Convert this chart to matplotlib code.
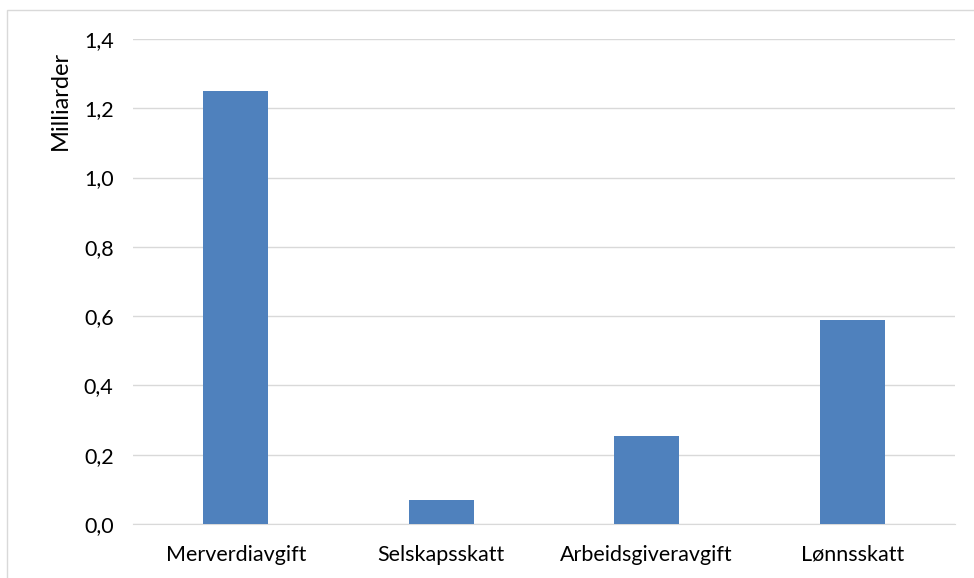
import matplotlib
matplotlib.use('Agg')
from matplotlib import pyplot as plt
from matplotlib.patches import Rectangle

categories = ['Merverdiavgift', 'Selskapsskatt', 'Arbeidsgiveravgift', 'Lønnsskatt']
values = [1.25, 0.07, 0.255, 0.588]
yticks = [0.0, 0.2, 0.4, 0.6, 0.8, 1.0, 1.2, 1.4]
ytick_labels = ['0,0', '0,2', '0,4', '0,6', '0,8', '1,0', '1,2', '1,4']


def main():
    plt.rcParams['font.family'] = ['Lato', 'DejaVu Sans']
    fig = plt.figure(figsize=(9.74, 5.78), dpi=100)
    W, H = 974, 578
    ax = fig.add_axes([133 / W, 1 - 524 / H, 822 / W, 485 / H])

    # outer chart frame
    fig.patches.append(Rectangle((7 / W, -0.01), 1.0, 1 - 10 / H + 0.01,
                                 transform=fig.transFigure, fill=False,
                                 edgecolor='#d9d9d9', linewidth=1))

    x = range(len(categories))
    ax.bar(x, values, width=0.316, color='#4f81bd', zorder=3)
    ax.set_xlim(-0.5, len(categories) - 0.5)
    ax.set_ylim(0, 1.4)
    ax.set_yticks(yticks)
    ax.set_yticklabels(ytick_labels)
    ax.set_xticks(list(x))
    ax.set_xticklabels(categories)
    ax.grid(axis='y', color='#d9d9d9', linewidth=1, zorder=0)
    for side in ['top', 'right', 'left']:
        ax.spines[side].set_visible(False)
    ax.spines['bottom'].set_color('#d9d9d9')
    ax.tick_params(axis='both', length=0, labelsize=15.5, colors='#000000')
    ax.tick_params(axis='y', pad=14)
    ax.tick_params(axis='x', pad=15)
    ax.set_ylabel('Milliarder', fontsize=17)
    # label sits near the top of the axis, as in the original
    ax.yaxis.set_label_coords(-62 / 822, (524 - 100) / 485)
    fig.savefig('out.png', dpi=100)


if __name__ == '__main__':
    main()
